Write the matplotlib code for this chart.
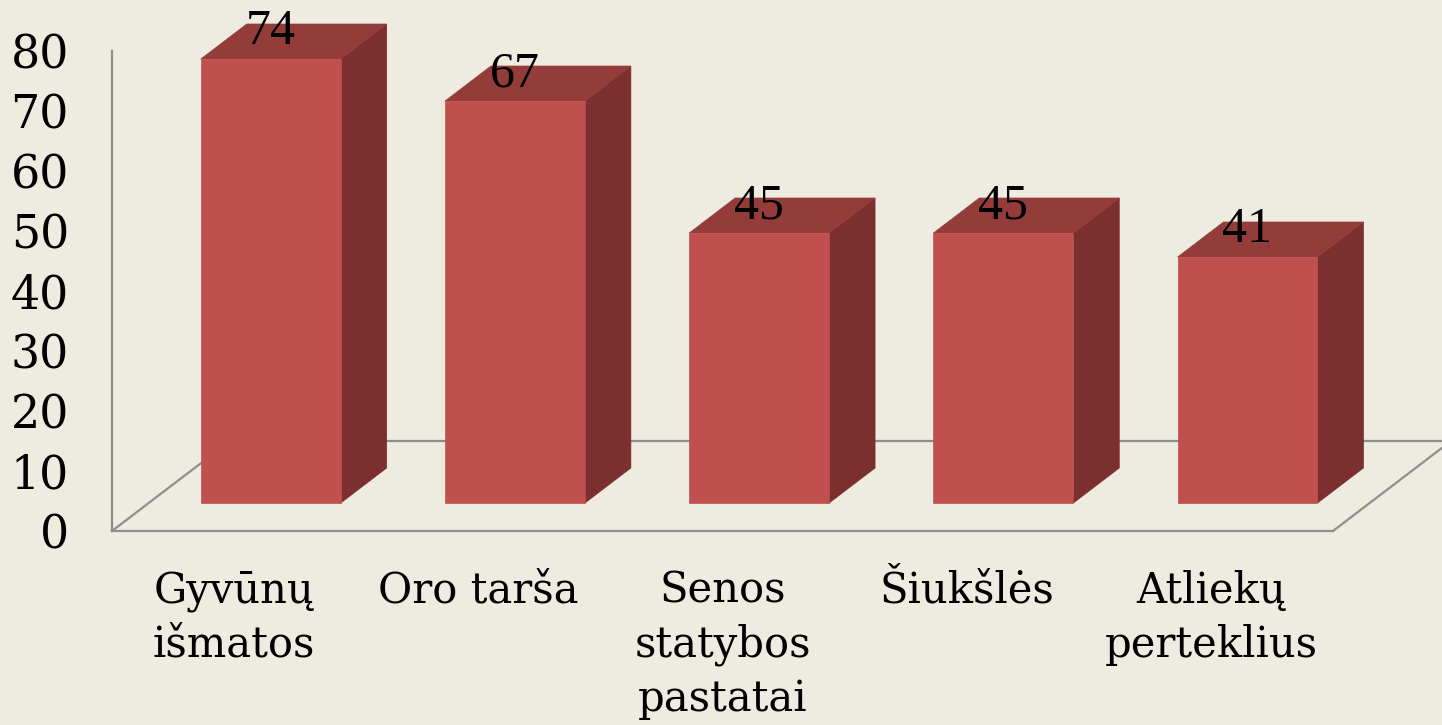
import matplotlib
matplotlib.use("Agg")
import matplotlib.pyplot as plt
from matplotlib.patches import Polygon
from matplotlib.lines import Line2D
from matplotlib.transforms import IdentityTransform

categories = ["Gyvūnų\nišmatos", "Oro tarša", "Senos\nstatybos\npastatai", "Šiukšlės", "Atliekų\nperteklius"]
values = [74, 67, 45, 45, 41]
yticks = [0, 10, 20, 30, 40, 50, 60, 70, 80]

W, H = 1442, 725
BG = "#EEEBE0"
FRONT = "#C0504D"
SIDE = "#7B2F2F"
TOP = "#943C39"
GRID = "#8F8F8F"

fig = plt.figure(figsize=(W / 100, H / 100), dpi=100, facecolor=BG)
ax = fig.add_axes([112 / W, (H - 531) / H, 1221 / W, 480 / H])
ax.set_facecolor("none")
ax.set_xlim(0, len(categories))
ax.set_ylim(0, 80)

for s in ["top", "right"]:
    ax.spines[s].set_visible(False)
for s in ["left", "bottom"]:
    ax.spines[s].set_color(GRID)
    ax.spines[s].set_linewidth(1.6)

ax.set_yticks(yticks)
ax.set_yticklabels([str(t) for t in yticks], fontfamily="DejaVu Serif", fontsize=33)
ax.set_xticks([i + 0.5 for i in range(len(categories))])
ax.set_xticklabels(categories, fontfamily="DejaVu Serif", fontsize=30, linespacing=1.36)
ax.tick_params(axis="y", length=0, pad=31)
ax.tick_params(axis="x", length=0, pad=28)

# depth of the floor (pixels, display)
DX, DY = 118, 90
f0, f1 = 0.31, 0.70
half_w = 0.2865

fig.canvas.draw()
T = ax.transData
idt = IdentityTransform()

def P(x, y, d):
    px, py = T.transform((x, y))
    return (px + d * DX, py + d * DY)

# floor outline
n = len(categories)
floor = [
    (P(0, 0, 0), P(0, 0, 1)),
    (P(0, 0, 1), P(n, 0, 1)),
    (P(n, 0, 0), P(n, 0, 1)),
]
for a, b in floor:
    fig.add_artist(Line2D([a[0], b[0]], [a[1], b[1]], transform=idt, color=GRID, lw=1.6, zorder=1))

for i, v in enumerate(values):
    c = i + 0.5
    x0, x1 = c - half_w, c + half_w
    front = [P(x0, 0, f0), P(x1, 0, f0), P(x1, v, f0), P(x0, v, f0)]
    side = [P(x1, 0, f0), P(x1, 0, f1), P(x1, v, f1), P(x1, v, f0)]
    top = [P(x0, v, f0), P(x1, v, f0), P(x1, v, f1), P(x0, v, f1)]
    for pts, col in [(side, SIDE), (top, TOP), (front, FRONT)]:
        fig.add_artist(Polygon(pts, closed=True, transform=idt, facecolor=col,
                               edgecolor=col, lw=0.5, zorder=3))
    lx, ly = P(c, v, f0)
    fig.text(lx / W, (ly + 15) / H, str(v), ha="center", va="baseline",
             fontfamily="Liberation Serif", fontsize=36, color="black", zorder=5)

fig.savefig("out.png", dpi=100, facecolor=BG)
